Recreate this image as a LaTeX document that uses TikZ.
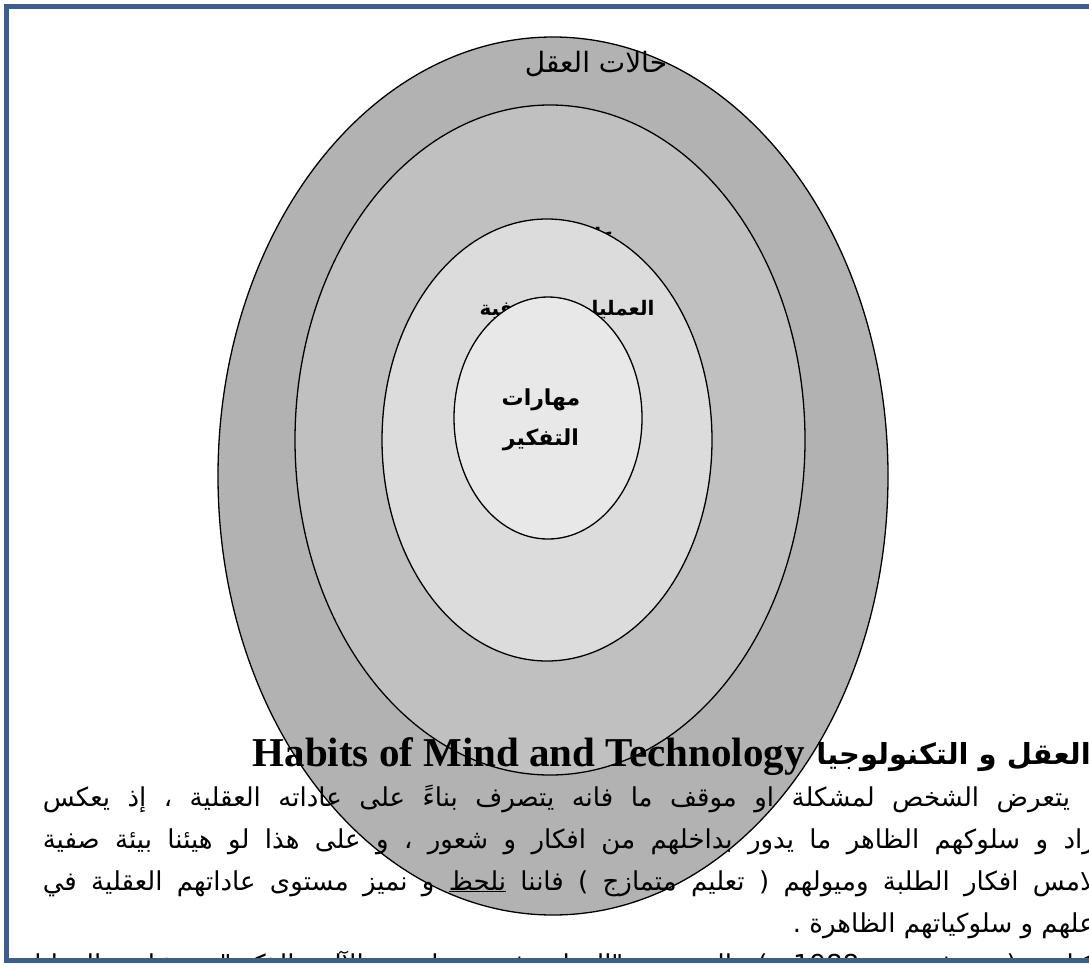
\documentclass[tikz,border=0pt]{standalone}
\usepackage{fontspec}
\setmainfont{Liberation Serif}
\newfontfamily\arabicfont[Script=Arabic]{DejaVu Sans}
\TeXXeTstate=1
\definecolor{borderblue}{HTML}{3B5F8D}
\definecolor{gOuter}{HTML}{B2B2B2}
\definecolor{gSecond}{HTML}{C0C0C0}
\definecolor{gThird}{HTML}{DCDCDC}
\definecolor{gInner}{HTML}{E8E8E8}
\newcommand{\arline}[2]{\hbox to #1{\spaceskip=0.28em plus 1fil\relax #2}}
\begin{document}
\begin{tikzpicture}[x=1pt,y=-1pt,
  ell/.style={draw=black,line width=1.3pt},
  arlabel/.style={font=\arabicfont\fontsize{28}{32}\selectfont,inner sep=0pt},
  arbold/.style={font=\arabicfont\bfseries\fontsize{20}{38}\selectfont,inner sep=0pt,align=center},
  arbody/.style={font=\arabicfont\fontsize{26}{30}\selectfont,inner sep=0pt,anchor=base east},
  enhead/.style={font=\bfseries\fontsize{41}{44}\selectfont,inner sep=0pt,anchor=base east},
  arhead/.style={font=\arabicfont\bfseries\fontsize{29}{32}\selectfont,inner sep=0pt,anchor=base east}]
\useasboundingbox (0,0) rectangle (1089,969);
\fill[white] (0,0) rectangle (1089,969);
% nested ellipses with their labels
\draw[ell,fill=gOuter] (553,476) ellipse [x radius=335,y radius=439];
\draw[ell,fill=gSecond] (550,440) ellipse [x radius=255,y radius=335];
\node[arbold] (lSecond) at (554,237) {\beginR عادات العقل\endR};
\draw[ell,fill=gThird] (547,440) ellipse [x radius=165,y radius=221];
\node[arbold] (lThird) at (567,310) {\beginR العمليات المعرفية\endR};
\draw[ell,fill=gInner] (548,418) ellipse [x radius=94,y radius=121];
\node[arbold,font=\arabicfont\bfseries\fontsize{22}{40}\selectfont] (lInner) at (541,420) {\beginR مهارات\endR\\\beginR التفكير\endR};
\node[arlabel] (lOuter) at (596,64) {\beginR حالات العقل\endR};
% text of the page
\begin{scope}
\clip (0,0) rectangle (1089,957);
\node[enhead] (hEn) at (805,766) {Habits of Mind and Technology};
\node[arhead] (hAr) at (1091,764) {\beginR العقل و التكنولوجيا\endR};
\node[arbody] (b1) at (1095,806) {\arline{1052pt}{\beginR ا يتعرض الشخص لمشكلة او موقف ما فانه يتصرف بناءً على عاداته العقلية ، إذ يعكس\endR}};
\node[arbody] (b2) at (1095,848) {\arline{1052pt}{\beginR راد و سلوكهم الظاهر ما يدور بداخلهم من افكار و شعور ، و على هذا لو هيئنا بيئة صفية\endR}};
\node[arbody] (b3) at (1095,890) {\arline{1052pt}{\beginR لامس افكار الطلبة وميولهم ( تعليم متمازج ) فاننا \underline{نلحظ} و نميز مستوى عاداتهم العقلية في\endR}};
\node[arbody] (b4) at (1095,932) {\beginR علهم و سلوكياتهم الظاهرة .\endR};
\node[arbody] (b5) at (1095,973) {\arline{1085pt}{\beginR كتاب ( نيوفي ، 1988 ) المعنون "العقل في مواجهة الآلة الذكية" تتشابه العمليات\endR}};
\end{scope}
% page frame
\draw[borderblue,line width=5pt] (6.5,6.5) rectangle (1120,960.5);
\end{tikzpicture}
\end{document}
